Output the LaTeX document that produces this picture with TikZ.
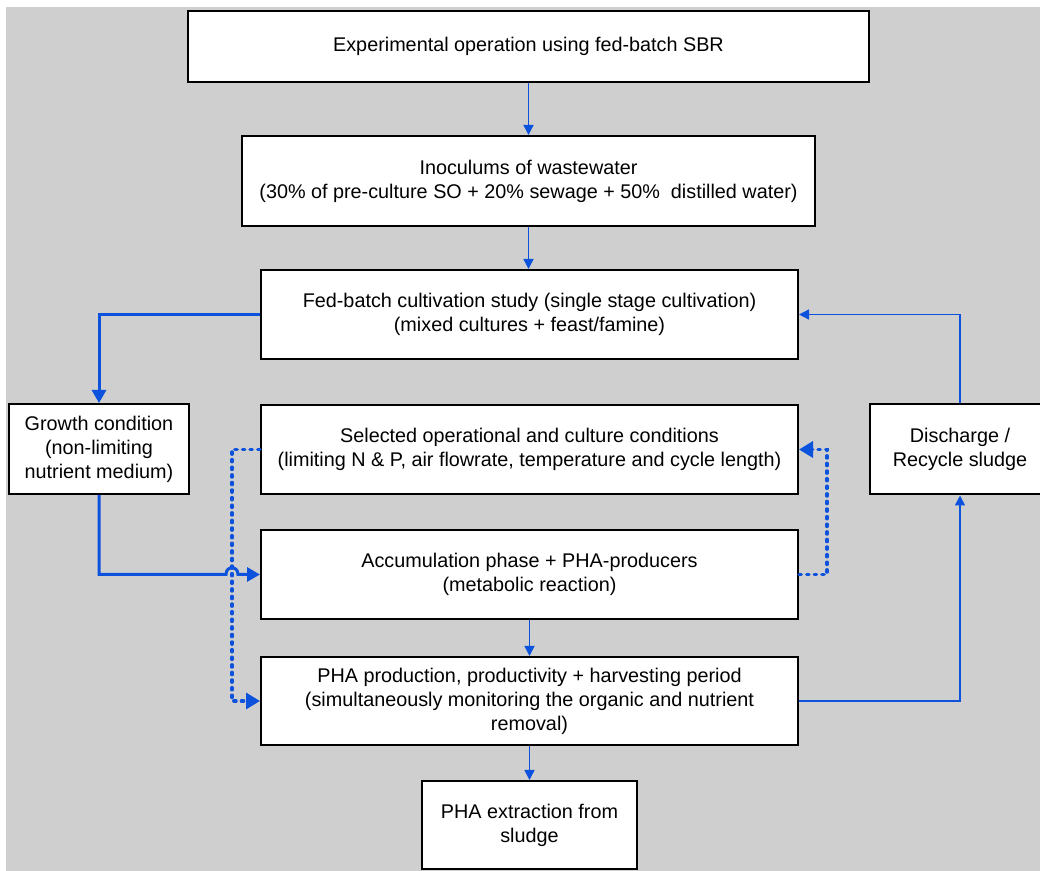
\documentclass[tikz,border=0pt]{standalone}
\usepackage{fontspec}
\setmainfont{Liberation Sans}
\usepackage{xcolor}
\usepackage{tikz}
\usetikzlibrary{arrows.meta,calc}
\definecolor{flowblue}{RGB}{12,82,220}
\definecolor{bggray}{RGB}{207,207,207}
\tikzset{
  stepbox/.style={rectangle, draw=black, line width=1pt, fill=white, align=center,
    font=\fontsize{9.9}{12}\selectfont, inner sep=2pt},
  flow/.style={-{Triangle[length=5pt,width=5pt]}, draw=flowblue, line width=0.75pt},
  bigflow/.style={-{Triangle[length=6.5pt,width=7pt]}, draw=flowblue, line width=1.5pt},
  dotflow/.style={-{Triangle[length=7pt,width=8pt,line cap=butt,sep=0pt]}, draw=flowblue, line width=1.6pt,
    line cap=round, dash pattern=on 1.2pt off 2.6pt},
}
\begin{document}
\begin{tikzpicture}[x=0.5pt, y=-0.5pt,
  wide/.style={stepbox, minimum width=537pt*0.5, minimum height=89pt*0.5},
  side/.style={stepbox, minimum width=180pt*0.5, minimum height=90pt*0.5}]
\useasboundingbox (0,0) rectangle (1040,871);
\fill[bggray] (6,7) rectangle (1040,871);
\node[stepbox, minimum width=681pt*0.5, minimum height=71pt*0.5] (exp) at (528.5,46.5)
  {Experimental operation using fed-batch SBR};
\node[stepbox, minimum width=573pt*0.5, minimum height=90pt*0.5] (ino) at (528.5,181)
  {Inoculums of wastewater\\(30\% of pre-culture SO + 20\% sewage + 50\%\ \ distilled water)};
\node[wide] (fed) at (529.5,314.5)
  {Fed-batch cultivation study (single stage cultivation)\\(mixed cultures + feast/famine)};
\node[wide] (sel) at (529.5,449.5)
  {Selected operational and culture conditions\\(limiting N \& P, air flowrate, temperature and cycle length)};
\node[wide] (acc) at (529.5,574.5)
  {Accumulation phase + PHA-producers\\(metabolic reaction)};
\node[wide, minimum height=88pt*0.5] (pha) at (529.5,701)
  {PHA production, productivity + harvesting period\\(simultaneously monitoring the organic and nutrient\\removal)};
\node[stepbox, minimum width=215pt*0.5, minimum height=88pt*0.5] (ext) at (529.5,825)
  {PHA extraction from\\sludge};
\node[side] (grow) at (99,449)
  {Growth condition\\(non-limiting\\nutrient medium)};
\node[side] (dis) at (960,449.5)
  {Discharge /\\Recycle sludge};
% main line
\draw[flow] (exp.south) -- (exp.south |- ino.north);
\draw[flow] (ino.south) -- (ino.south |- fed.north);
\draw[flow] (acc.south) -- (acc.south |- pha.north);
\draw[flow] (pha.south) -- (pha.south |- ext.north);
% feedback loops
\coordinate (dl) at ($(sel.west)+(-28,0)$);
\coordinate (dr) at ($(acc.east)+(28,0)$);
\draw[dotflow] (sel.west) -- (dl) |- (pha.west);
\draw[dotflow] (acc.east) -- (dr) |- (sel.east);
\draw[bigflow] (fed.west) -| (grow.north);
\draw[bigflow] (grow.south) -- (grow.south |- acc.west) -- ($(dl |- acc.west)+(-6,0)$)
  .. controls +(0,-9) and +(0,-9) .. ++(12,0) -- (acc.west);
\draw[flow] (pha.east) -| (dis.south);
\draw[flow] (dis.north) |- (fed.east);
\end{tikzpicture}
\end{document}
